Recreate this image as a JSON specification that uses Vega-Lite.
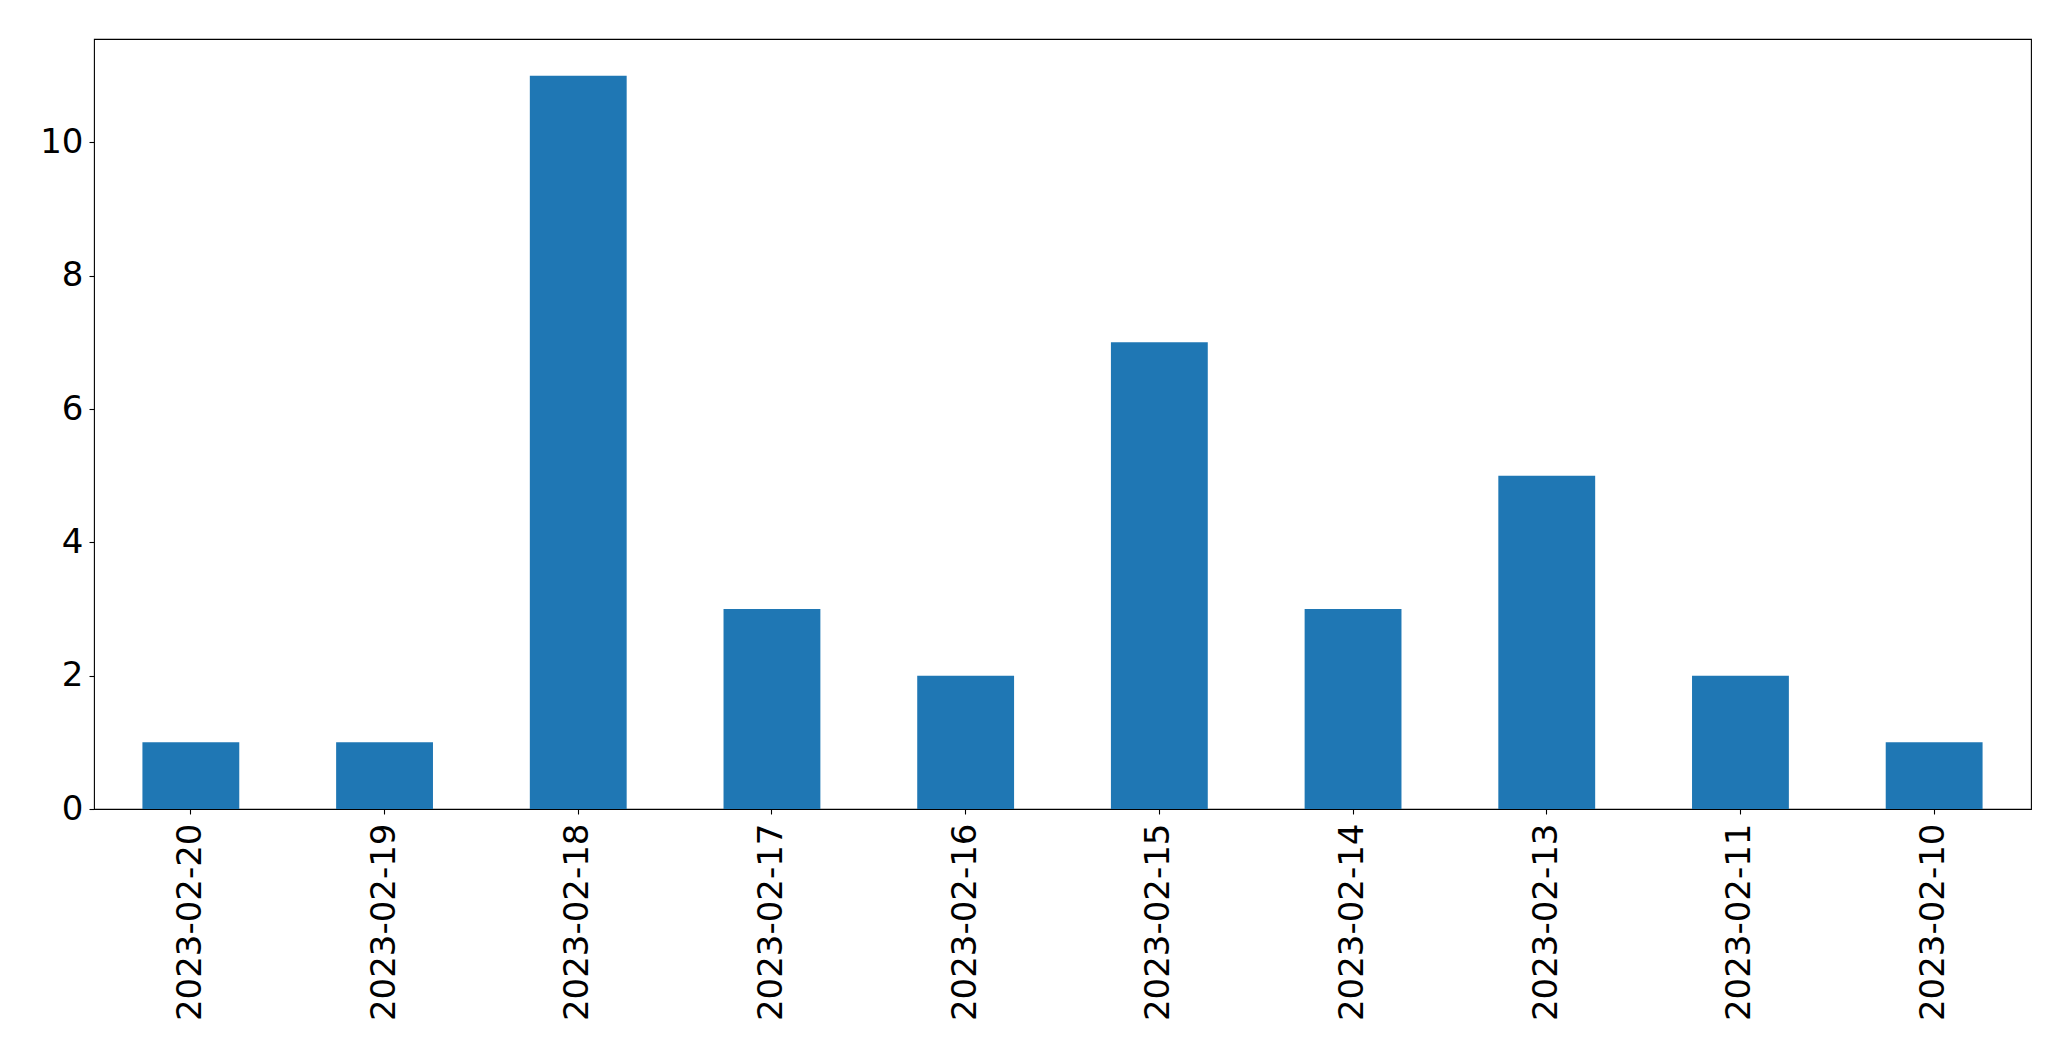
{
  "$schema": "https://vega.github.io/schema/vega-lite/v6.json",
  "autosize": {"type": "none"},
  "width": 1937,
  "height": 770,
  "padding": {"left": 94, "top": 39, "right": 40, "bottom": 252},
  "background": "white",
  "config": {
    "view": {"stroke": "black", "strokeWidth": 1.1},
    "font": "DejaVu Sans",
    "axis": {
      "grid": false,
      "domain": false,
      "tickColor": "black",
      "tickWidth": 1.1,
      "tickSize": 5,
      "labelFont": "DejaVu Sans",
      "labelFontSize": 34,
      "labelColor": "black",
      "labelPadding": 5,
      "labelLimit": 1000,
      "title": null
    }
  },
  "data": {
    "values": [
      {"date": "2023-02-20", "count": 1},
      {"date": "2023-02-19", "count": 1},
      {"date": "2023-02-18", "count": 11},
      {"date": "2023-02-17", "count": 3},
      {"date": "2023-02-16", "count": 2},
      {"date": "2023-02-15", "count": 7},
      {"date": "2023-02-14", "count": 3},
      {"date": "2023-02-13", "count": 5},
      {"date": "2023-02-11", "count": 2},
      {"date": "2023-02-10", "count": 1}
    ]
  },
  "mark": {"type": "bar", "color": "#1f77b4"},
  "encoding": {
    "x": {
      "field": "date",
      "type": "nominal",
      "sort": null,
      "scale": {"paddingInner": 0.5, "paddingOuter": 0.25},
      "axis": {"labelAngle": -90, "labelAlign": "right", "labelBaseline": "middle", "labelPadding": 9, "labelLimit": 1000}
    },
    "y": {
      "field": "count",
      "type": "quantitative",
      "scale": {"domain": [0, 11.55], "nice": false, "zero": true},
      "axis": {"values": [0, 2, 4, 6, 8, 10], "labelPadding": 6}
    }
  }
}
